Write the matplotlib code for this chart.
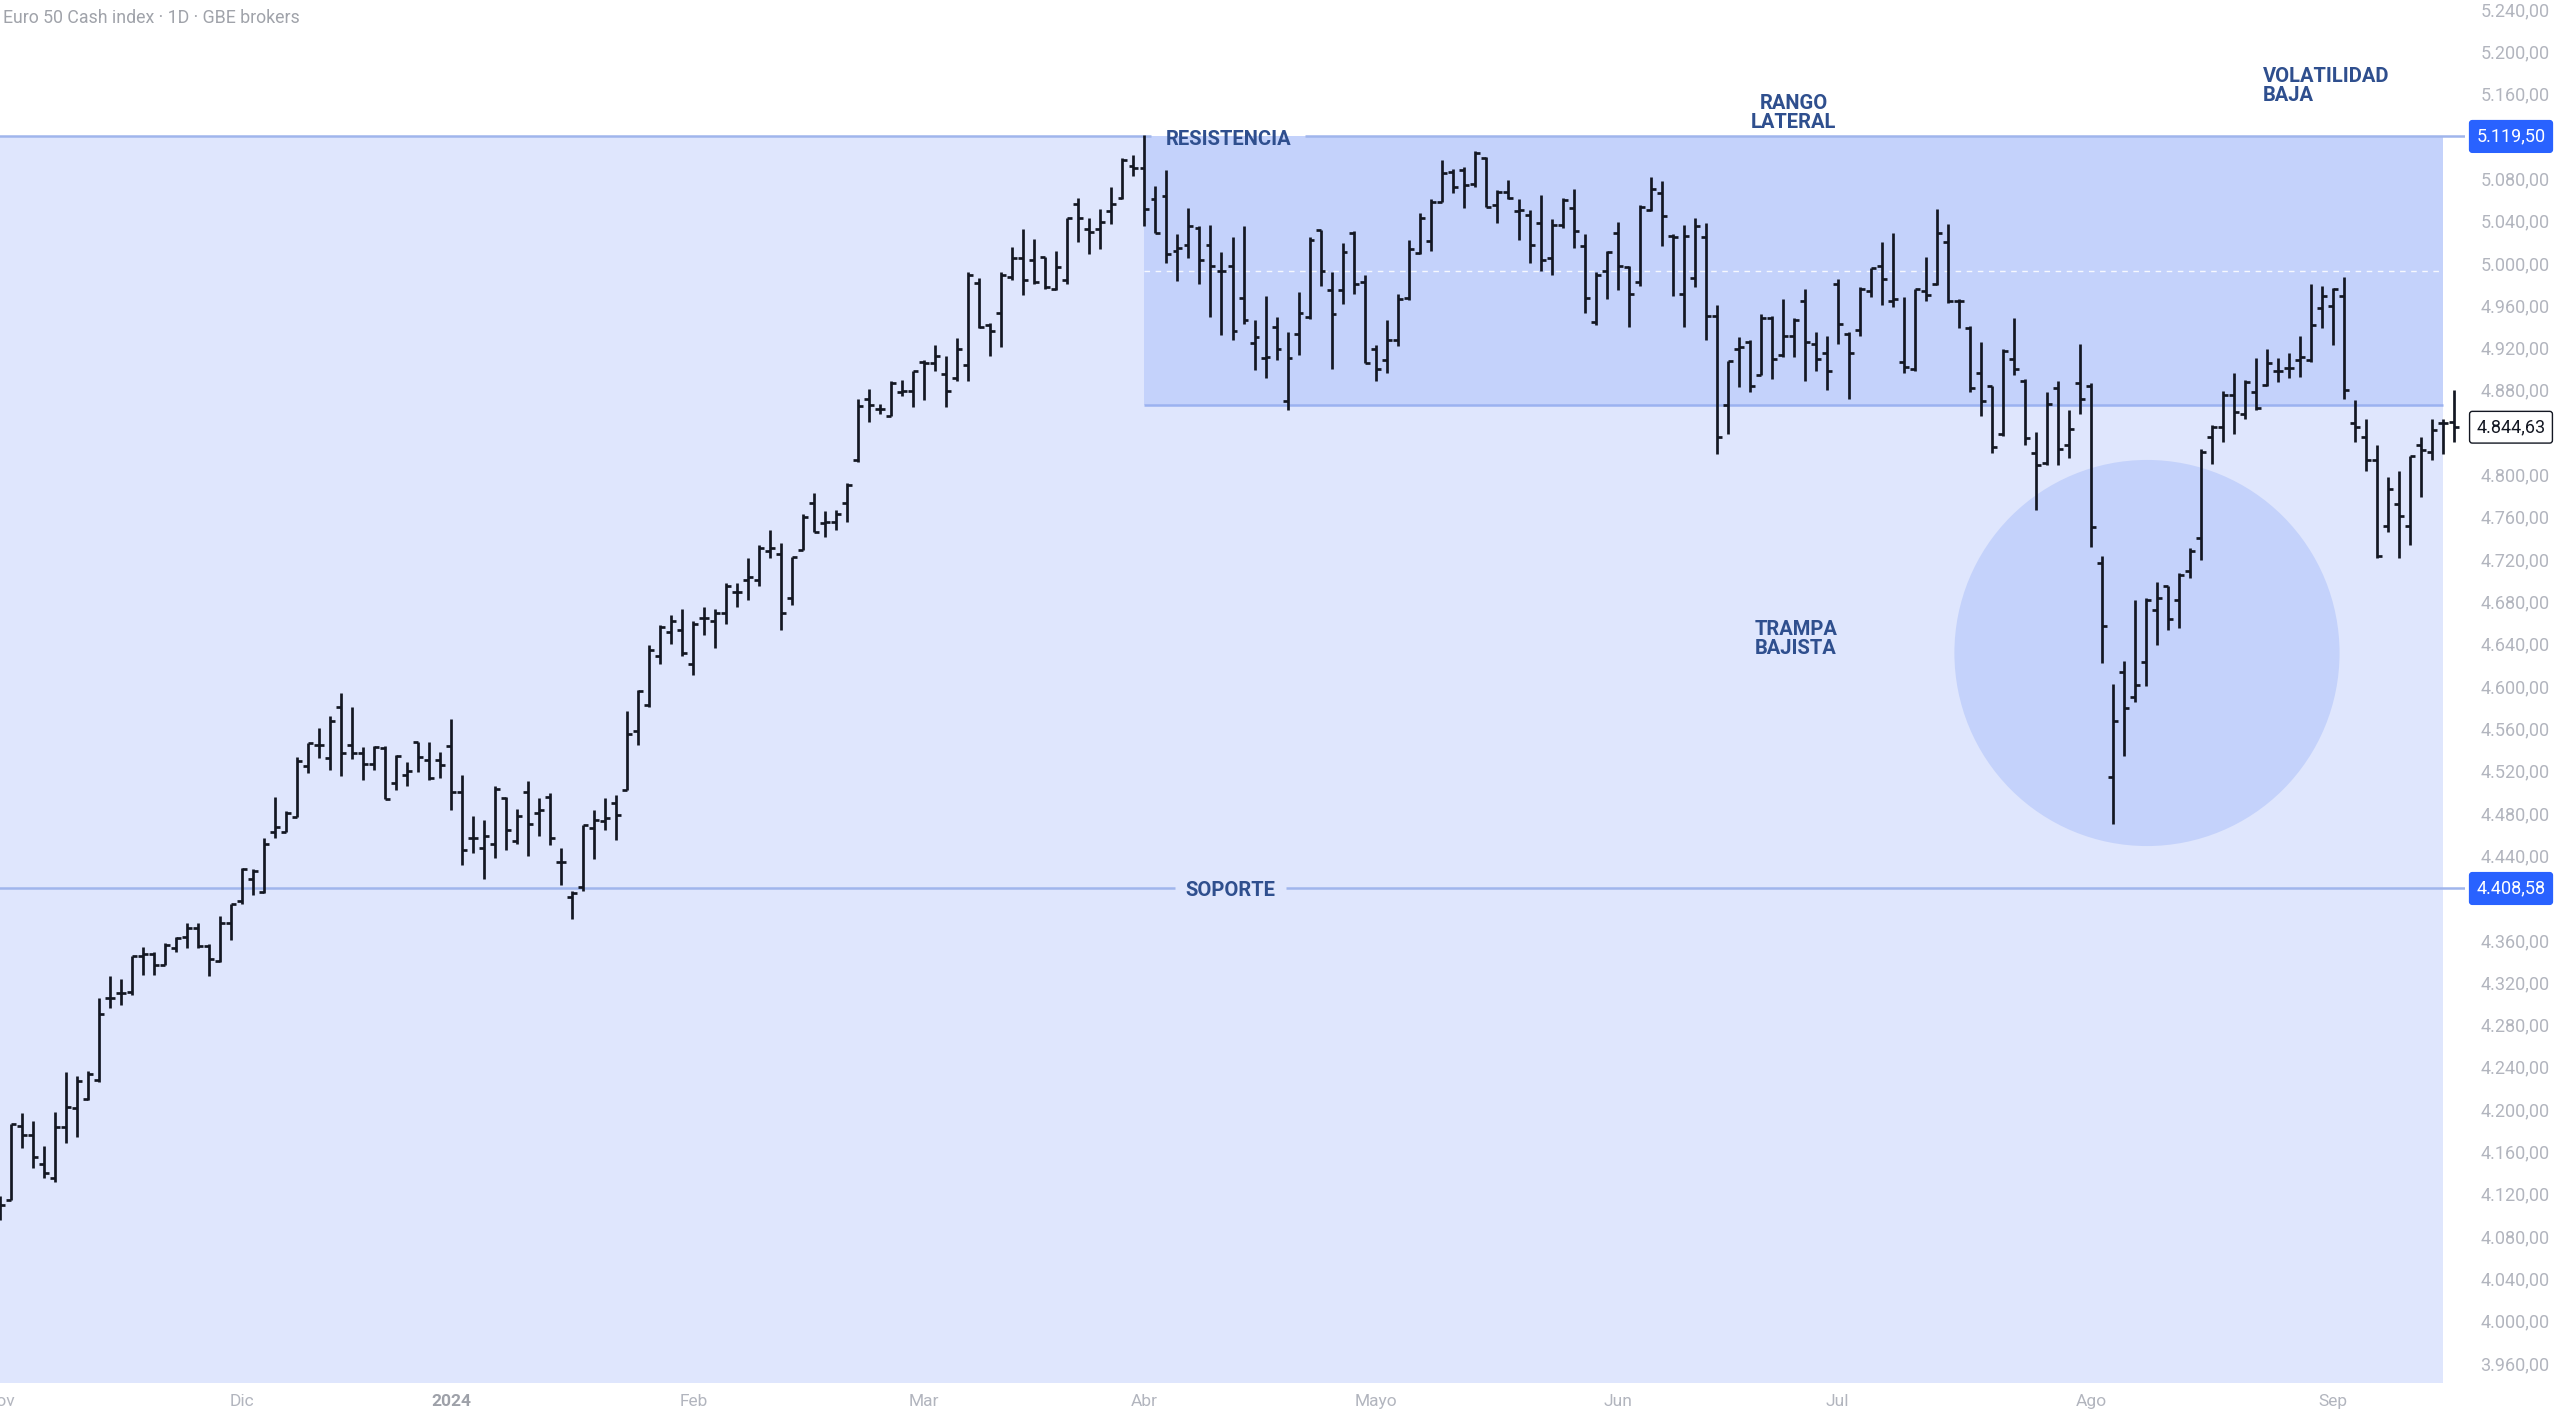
import numpy as np
import matplotlib.pyplot as plt
from matplotlib.patches import Rectangle, Ellipse

plt.rcParams['font.family'] = ['Roboto', 'DejaVu Sans']

# Daily OHLC bars, Euro 50 cash, Nov 2023 - Sep 2024
opens = [4100, 4114, 4184, 4176, 4148, 4135, 4183, 4201, 4210, 4228,
         4305, 4310, 4311, 4345, 4347, 4336, 4352, 4363, 4371, 4354,
         4340, 4376, 4397, 4418, 4405, 4462, 4462, 4476, 4524, 4544,
         4532, 4580, 4544, 4537, 4526, 4541, 4508, 4516, 4547, 4530,
         4530, 4543, 4500, 4456, 4447, 4451, 4494, 4453, 4500, 4480,
         4495, 4434, 4401, 4410, 4466, 4472, 4489, 4502, 4557, 4582,
         4628, 4651, 4653, 4621, 4664, 4661, 4669, 4689, 4700, 4700,
         4728, 4725, 4683, 4729, 4773, 4754, 4755, 4773, 4814, 4871,
         4862, 4855, 4878, 4879, 4906, 4905, 4895, 4891, 4903, 4981,
         4941, 4953, 4987, 5005, 5003, 5006, 4975, 4984, 5056, 5032,
         5032, 5049, 5061, 5092, 5090, 5060, 5063, 5011, 5017, 5033,
         5017, 4992, 4997, 4967, 4924, 4910, 4939, 4869, 4933, 4949,
         5031, 4974, 4974, 5028, 4982, 4919, 4908, 4927, 4967, 5009,
         5021, 5058, 5086, 5088, 5075, 5099, 5055, 5067, 5049, 5045,
         5038, 5005, 5036, 5052, 5016, 4944, 4992, 5028, 4996, 4982,
         5050, 5066, 5025, 4971, 4986, 5024, 4950, 4866, 4919, 4925,
         4894, 4948, 4913, 4931, 4964, 4923, 4915, 4980, 4933, 4937,
         4973, 4997, 4964, 4906, 4900, 4973, 4980, 5020, 4964, 4938,
         4896, 4884, 4838, 4909, 4888, 4820, 4811, 4882, 4828, 4886,
         4884, 4716, 4514, 4613, 4590, 4623, 4672, 4695, 4681, 4709,
         4740, 4835, 4845, 4875, 4857, 4878, 4885, 4898, 4901, 4908,
         4908, 4957, 4959, 4969, 4849, 4835, 4814, 4751, 4772, 4751,
         4828, 4821, 4849, 4850]
highs = [4118, 4186, 4196, 4189, 4165, 4197, 4235, 4231, 4236, 4305,
         4326, 4323, 4345, 4353, 4349, 4357, 4363, 4376, 4376, 4356,
         4383, 4394, 4428, 4427, 4456, 4495, 4482, 4533, 4546, 4560,
         4572, 4593, 4580, 4542, 4543, 4543, 4535, 4528, 4547, 4547,
         4538, 4569, 4516, 4477, 4473, 4505, 4495, 4484, 4510, 4494,
         4499, 4447, 4406, 4469, 4483, 4494, 4497, 4576, 4596, 4639,
         4658, 4667, 4673, 4661, 4675, 4673, 4697, 4697, 4721, 4733,
         4747, 4735, 4722, 4763, 4782, 4765, 4766, 4792, 4871, 4881,
         4867, 4888, 4889, 4898, 4908, 4922, 4912, 4929, 4991, 4986,
         4943, 4991, 5015, 5032, 5023, 5006, 5011, 5042, 5061, 5042,
         5051, 5072, 5099, 5102, 5121, 5073, 5088, 5027, 5052, 5035,
         5036, 5010, 5024, 5035, 4946, 4969, 4949, 4935, 4972, 5024,
         5031, 4991, 5019, 5030, 4989, 4922, 4946, 4971, 5022, 5047,
         5060, 5097, 5089, 5091, 5106, 5100, 5069, 5078, 5060, 5050,
         5064, 5041, 5061, 5070, 5027, 4991, 5011, 5039, 4997, 5055,
         5081, 5077, 5027, 5036, 5042, 5038, 4960, 4907, 4930, 4927,
         4952, 4950, 4966, 4948, 4975, 4935, 4931, 4985, 4935, 4977,
         4995, 5020, 5028, 4968, 4975, 5006, 5051, 5037, 4966, 4940,
         4925, 4884, 4919, 4948, 4890, 4840, 4878, 4888, 4861, 4923,
         4886, 4723, 4602, 4624, 4681, 4683, 4698, 4695, 4707, 4730,
         4824, 4847, 4879, 4896, 4889, 4910, 4919, 4910, 4915, 4931,
         4980, 4978, 4976, 4987, 4870, 4852, 4828, 4798, 4803, 4817,
         4835, 4852, 4852, 4880]
lows = [4095, 4114, 4163, 4144, 4135, 4131, 4168, 4174, 4209, 4226,
        4296, 4298, 4308, 4327, 4327, 4336, 4349, 4352, 4352, 4326,
        4339, 4360, 4394, 4402, 4404, 4456, 4462, 4476, 4518, 4532,
        4521, 4515, 4531, 4511, 4521, 4493, 4502, 4505, 4519, 4511,
        4513, 4483, 4431, 4442, 4418, 4437, 4445, 4451, 4439, 4458,
        4450, 4412, 4380, 4406, 4436, 4464, 4454, 4502, 4544, 4580,
        4621, 4640, 4628, 4610, 4648, 4636, 4659, 4675, 4681, 4695,
        4721, 4653, 4677, 4729, 4746, 4741, 4747, 4755, 4812, 4850,
        4857, 4855, 4874, 4864, 4870, 4898, 4864, 4888, 4888, 4938,
        4912, 4920, 4984, 4970, 4980, 4975, 4974, 4980, 5020, 5008,
        5013, 5037, 5060, 5082, 5035, 5028, 5000, 4983, 5005, 4980,
        4949, 4932, 4927, 4942, 4899, 4891, 4908, 4861, 4913, 4947,
        4978, 4900, 4961, 4971, 4905, 4888, 4896, 4921, 4965, 5008,
        5011, 5058, 5066, 5052, 5072, 5053, 5038, 5060, 5022, 5000,
        4992, 4989, 5033, 5014, 4953, 4941, 4966, 4974, 4939, 4978,
        5049, 5016, 4969, 4939, 4977, 4927, 4819, 4838, 4883, 4878,
        4894, 4890, 4911, 4911, 4888, 4898, 4880, 4923, 4871, 4931,
        4968, 4960, 4958, 4896, 4898, 4964, 4979, 4962, 4938, 4878,
        4855, 4820, 4836, 4894, 4828, 4766, 4809, 4809, 4816, 4857,
        4731, 4622, 4470, 4534, 4585, 4600, 4639, 4653, 4655, 4702,
        4719, 4810, 4831, 4838, 4852, 4861, 4884, 4887, 4891, 4892,
        4906, 4938, 4922, 4871, 4831, 4803, 4721, 4746, 4721, 4733,
        4779, 4814, 4819, 4831]
closes = [4109, 4186, 4176, 4155, 4140, 4183, 4202, 4227, 4233, 4290,
          4305, 4310, 4345, 4347, 4336, 4355, 4362, 4371, 4354, 4342,
          4376, 4394, 4427, 4425, 4451, 4467, 4480, 4529, 4546, 4544,
          4567, 4537, 4537, 4526, 4542, 4493, 4534, 4520, 4533, 4513,
          4525, 4500, 4445, 4456, 4458, 4503, 4464, 4477, 4470, 4483,
          4456, 4434, 4404, 4469, 4473, 4475, 4478, 4555, 4595, 4634,
          4656, 4661, 4631, 4659, 4664, 4669, 4695, 4689, 4703, 4730,
          4730, 4669, 4722, 4760, 4746, 4755, 4763, 4790, 4865, 4866,
          4862, 4886, 4879, 4898, 4905, 4912, 4879, 4919, 4989, 4939,
          4936, 4989, 5005, 4984, 4982, 4977, 4996, 5042, 5042, 5029,
          5039, 5056, 5097, 5090, 5051, 5028, 5008, 5014, 5035, 5003,
          4997, 4992, 4936, 4946, 4930, 4911, 4919, 4910, 4953, 5022,
          4992, 4952, 5010, 4980, 4905, 4900, 4927, 4966, 5013, 5042,
          5058, 5085, 5072, 5074, 5104, 5053, 5067, 5061, 5050, 5017,
          5003, 5036, 5059, 5030, 4967, 4989, 5010, 4997, 4971, 5053,
          5070, 5044, 5024, 5025, 5035, 4950, 4835, 4907, 4920, 4884,
          4948, 4909, 4931, 4946, 4925, 4909, 4898, 4942, 4915, 4975,
          4995, 4985, 4966, 4902, 4975, 4970, 5028, 4964, 4964, 4882,
          4869, 4826, 4917, 4900, 4834, 4809, 4867, 4824, 4843, 4871,
          4750, 4657, 4567, 4579, 4601, 4681, 4683, 4663, 4705, 4728,
          4821, 4845, 4875, 4859, 4887, 4863, 4905, 4898, 4901, 4911,
          4941, 4969, 4975, 4880, 4845, 4814, 4723, 4786, 4761, 4817,
          4823, 4842, 4849, 4844.63]

# first trading day of each month (bar index) and its label
month_pos = [0, 22, 41, 63, 84, 104, 125, 147, 167, 190, 212]
month_labels = ['Nov', 'Dic', '2024', 'Feb', 'Mar', 'Abr', 'Mayo', 'Jun', 'Jul', 'Ago', 'Sep']

# drawn levels
resistance = 5119.50
support = 4408.58
range_low = 4866.0

price_ticks = [p for p in range(3960, 5241, 40) if p not in (4400, 4840, 5120)]


def es_fmt(v):
    s = f'{v:,.2f}'
    return s.replace(',', 'X').replace('.', ',').replace('X', '.')


W, H = 2560, 1417
fig = plt.figure(figsize=(W / 100, H / 100), dpi=100)
ax = fig.add_axes([0, 34 / H, 2465 / W, 1383 / H])

x = np.arange(len(closes))
x_left, x_right = 0.27, 224.0
y_bot, y_top = 3941.1, 5248.5
ax.set_xlim(x_left, x_right)
ax.set_ylim(y_bot, y_top)

light = '#dfe6fd'
mid = '#c4d2fb'
line_c = '#a0b5ec'
navy = '#2f4f8e'

# background zones
ax.add_patch(Rectangle((x_left - 2, y_bot - 50), 222.0 - x_left + 2, resistance - y_bot + 50,
                       facecolor=light, edgecolor='none', zorder=0))
ax.add_patch(Rectangle((104.0, range_low), 222.0 - 104.0, resistance - range_low,
                       facecolor=mid, edgecolor='none', zorder=0.5))
ax.add_patch(Ellipse((195.1, 4631.2), 35.0, 365.0, facecolor=mid, edgecolor='none', zorder=0.5))

# level lines (gaps left for the labels)
ax.hlines([resistance] * 2, [x_left - 2, 118.6], [104.6, x_right], color=line_c, lw=1.8, zorder=1)
ax.hlines([support] * 2, [x_left - 2, 116.9], [106.8, x_right], color=line_c, lw=1.8, zorder=1)
ax.hlines(range_low, 104.0, 222.0, color='#9bb2f0', lw=1.8, zorder=1)
ax.hlines((resistance + range_low) / 2, 104.0, 222.0, color='white', lw=1.0,
          linestyles=(0, (4, 4)), alpha=0.85, zorder=1)

# OHLC bars
bar_c = '#131722'
ax.vlines(x, lows, highs, color=bar_c, lw=1.95, zorder=3)
ax.hlines(opens, x - 0.45, x, color=bar_c, lw=1.95, zorder=3)
ax.hlines(closes, x, x + 0.45, color=bar_c, lw=1.95, zorder=3)

# annotations
tkw = dict(color=navy, fontsize=14.5, fontweight='bold', zorder=4, linespacing=1.0)
ax.text(111.6, resistance - 3, 'RESISTENCIA', ha='center', va='center', **tkw)
ax.text(111.8, support - 2, 'SOPORTE', ha='center', va='center', **tkw)
ax.text(163.0, 5142.0, 'RANGO\nLATERAL', ha='center', va='center', **tkw)
ax.text(205.6, 5167.0, 'VOLATILIDAD\nBAJA', ha='left', va='center', **tkw)
ax.text(163.2, 4644.0, 'TRAMPA\nBAJISTA', ha='center', va='center', **tkw)

# axes cosmetics
for s in ax.spines.values():
    s.set_visible(False)
ax.yaxis.tick_right()
ax.set_yticks(price_ticks)
ax.set_yticklabels([es_fmt(p) for p in price_ticks])
ax.tick_params(axis='y', length=0, pad=11, labelsize=13, labelcolor='#b2b5be')
ax.set_xticks(month_pos)
ax.set_xticklabels(month_labels)
ax.tick_params(axis='x', length=0, pad=8, labelsize=12.5, labelcolor='#b2b5be')
for lab in ax.get_xticklabels():
    if lab.get_text() == '2024':
        lab.set_fontweight('bold')
        lab.set_color('#9ea1a9')

# price boxes on the scale
box_x = 2511
for val, fc, ec, tc in [(resistance, '#2962ff', '#2962ff', 'white'),
                        (support, '#2962ff', '#2962ff', 'white'),
                        (closes[-1], 'white', '#131722', '#131722')]:
    ax.annotate(es_fmt(val), xy=(box_x, val), xycoords=('figure pixels', 'data'),
                ha='center', va='center', fontsize=13, color=tc, annotation_clip=False,
                bbox=dict(boxstyle='round,pad=0.38,rounding_size=0.15', fc=fc, ec=ec, lw=1.0),
                zorder=6)

fig.text(3 / W, 1 - 18 / H, 'Euro 50 Cash index · 1D · GBE brokers', ha='left', va='center',
         fontsize=12.8, color='#a0a3aa')

fig.savefig('out.png', dpi=100, facecolor='white')
